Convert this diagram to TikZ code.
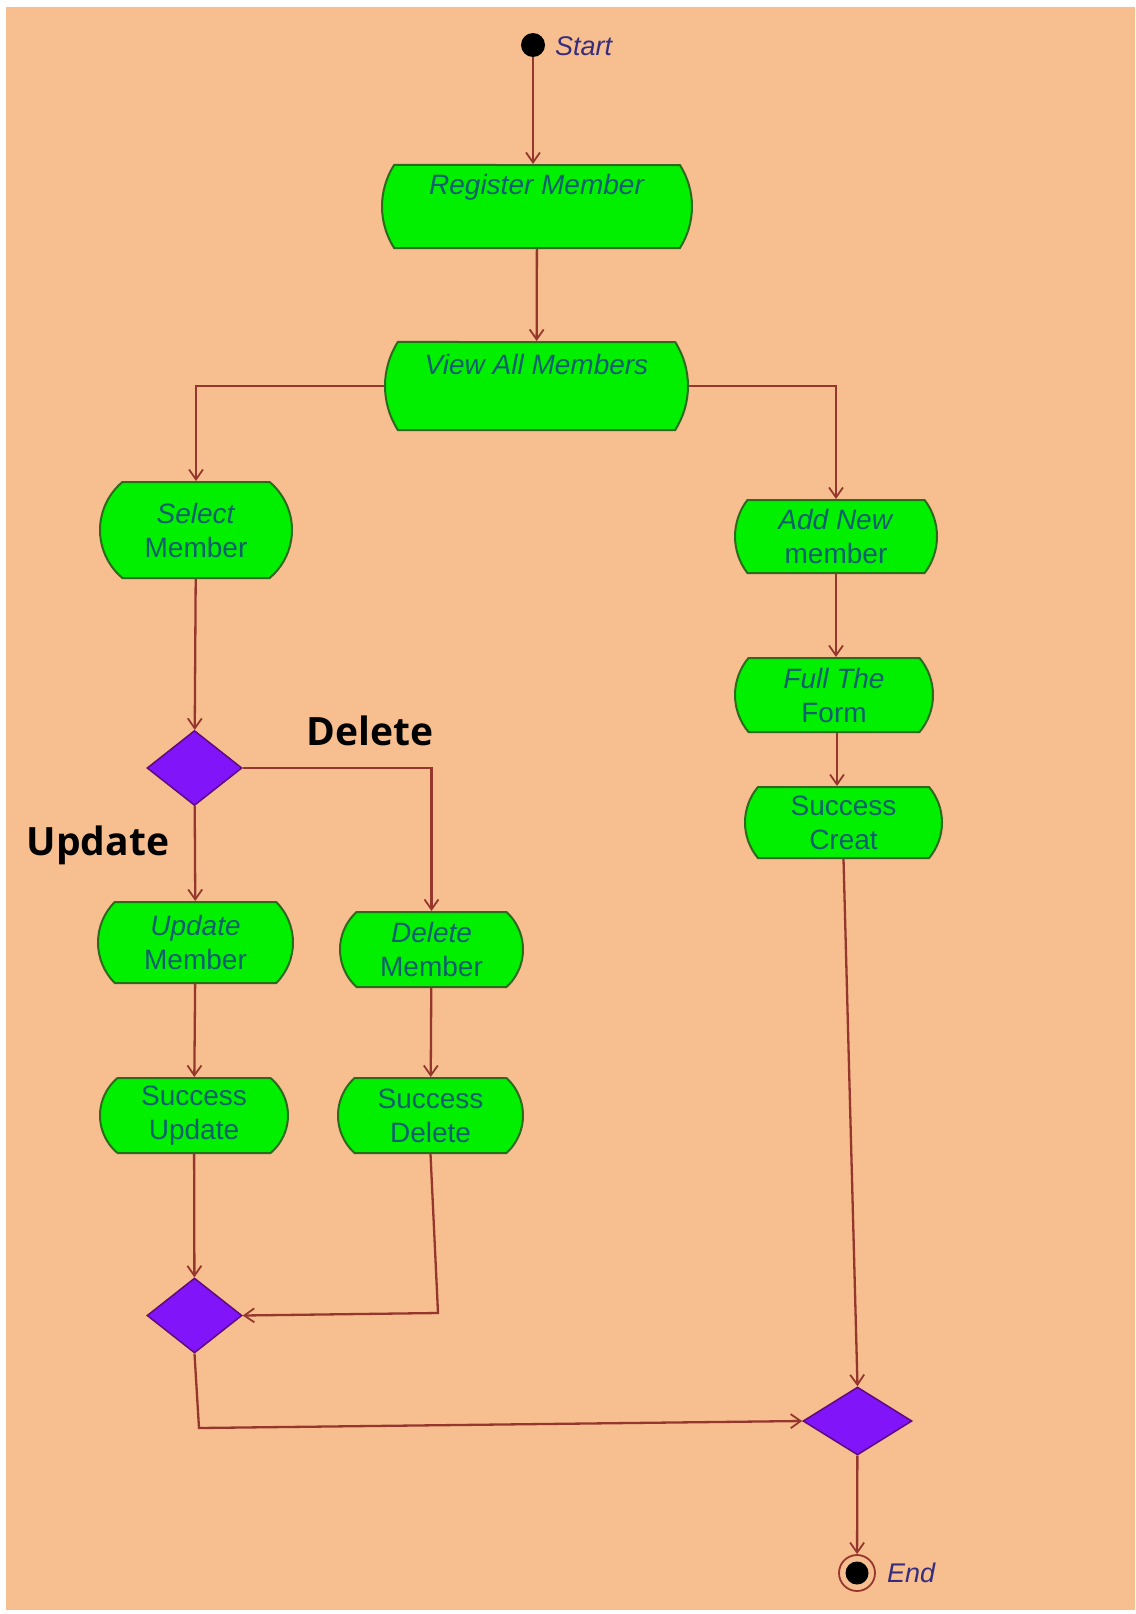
\documentclass[tikz,border=0pt]{standalone}
\usepackage{fontspec}
\setmainfont{Liberation Sans}
\newfontfamily\labelfont{Open Sans}
\usetikzlibrary{shapes.misc,shapes.geometric,arrows.meta}

\definecolor{paper}{RGB}{247,191,143}
\definecolor{actfill}{RGB}{0,240,0}
\definecolor{actline}{RGB}{45,105,30}
\definecolor{acttext}{RGB}{15,95,110}
\definecolor{decfill}{RGB}{130,20,250}
\definecolor{decline}{RGB}{95,10,125}
\definecolor{flow}{RGB}{150,55,45}
\definecolor{termtext}{RGB}{55,45,125}

\tikzset{
  x=1pt, y=-1pt,
  activity/.style={rounded rectangle, rounded rectangle arc length=80,
    draw=actline, line width=2pt, fill=actfill, text=acttext,
    inner sep=0pt, align=center,
    font=\fontsize{28}{34}\selectfont},
  decision/.style={diamond, draw=decline, line width=1.5pt, fill=decfill,
    inner sep=0pt},
  flowline/.style={draw=flow, line width=2.3pt,
    -{Straight Barb[length=10pt,width=14pt,line width=1.8pt]}},
  termlabel/.style={text=termtext, font=\fontsize{27}{32}\selectfont\itshape,
    anchor=west, inner sep=0pt},
  guard/.style={font=\fontsize{39}{46}\labelfont\bfseries, text=black,
    inner sep=0pt}
}

\begin{document}
\begin{tikzpicture}
% canvas
\useasboundingbox (0,0) rectangle (1135,1614);
\fill[white] (0,0) rectangle (1135,1614);
\fill[paper] (6,7) rectangle (1135,1610);

% initial and final states
\node[circle, fill=black, minimum size=24pt, inner sep=0pt] (start) at (533,45) {};
\node[termlabel] (startlbl) at (555,46) {Start};
\node[circle, draw=flow, line width=1.8pt, minimum size=36pt, inner sep=0pt] (end) at (857,1573) {};
\node[circle, fill=black, minimum size=23pt, inner sep=0pt] (endcore) at (end.center) {};
\node[termlabel] (endlbl) at (887,1573) {End};

% activities
\node[activity, rounded rectangle arc length=65, minimum width=310pt, minimum height=83pt]
  (reg) at (537,206.5) {\textit{Register Member}\\ \strut};
\node[activity, rounded rectangle arc length=65, minimum width=303pt, minimum height=88pt]
  (view) at (536.5,386) {\textit{View All Members}\\ \strut};
\node[activity, rounded rectangle arc length=100, minimum width=192pt, minimum height=96pt]
  (sel) at (196,530) {\textit{Select}\\Member};
\node[activity, rounded rectangle arc length=75, minimum width=202pt, minimum height=73pt]
  (add) at (836,536.5) {\textit{Add New}\\member};
\node[activity, minimum width=198pt, minimum height=74pt]
  (form) at (834,695) {\textit{Full The}\\Form};
\node[activity, minimum width=197pt, minimum height=71pt]
  (creat) at (843.5,822.5) {Success\\Creat};
\node[activity, rounded rectangle arc length=90, minimum width=195pt, minimum height=81pt]
  (upd) at (195.5,942.5) {\textit{Update}\\Member};
\node[activity, rounded rectangle arc length=95, minimum width=183pt, minimum height=75pt]
  (del) at (431.5,949.5) {\textit{Delete}\\Member};
\node[activity, rounded rectangle arc length=100, minimum width=188pt, minimum height=75pt]
  (supd) at (194,1115.5) {Success\\Update};
\node[activity, rounded rectangle arc length=95, minimum width=185pt, minimum height=75pt]
  (sdel) at (430.5,1115.5) {Success\\Delete};

% decisions and merges
\node[decision, minimum width=95pt, minimum height=75pt] (d1) at (194.5,768) {};
\node[decision, minimum width=95pt, minimum height=75pt] (d2) at (194.5,1315.5) {};
\node[decision, minimum width=109pt, minimum height=68pt] (d3) at (857.5,1421) {};

% guard labels
\node[guard] (gdel) at (370,731) {Delete};
\node[guard] (gupd) at (98,845) {Update};

% bend points
\coordinate (j1) at (438,1313);
\coordinate (j2) at (199,1428);

% flows
\draw[flowline] (start) -- (start |- reg.north);
\draw[flowline] (reg) -- (view);
\draw[flowline] (view.west) -| (sel.north);
\draw[flowline] (view.east) -| (add.north);
\draw[flowline] (sel) -- (d1);
\draw[flowline] (d1.east) -| (del.north);
\draw[flowline] (d1) -- (upd);
\draw[flowline] (upd) -- (supd);
\draw[flowline] (del) -- (sdel);
\draw[flowline] (supd) -- (d2);
\draw[flowline] (sdel.south) -- (j1) -- (d2.east);
\draw[flowline] (d2.south) -- (j2) -- (d3.west);
\draw[flowline] (add.south) -- (add.south |- form.north);
\draw[flowline] ([xshift=3pt]form.south) -- ([xshift=3pt]form.south |- creat.north);
\draw[flowline] (creat.south) -- (d3.north);
\draw[flowline] (d3) -- (end);
\end{tikzpicture}
\end{document}
